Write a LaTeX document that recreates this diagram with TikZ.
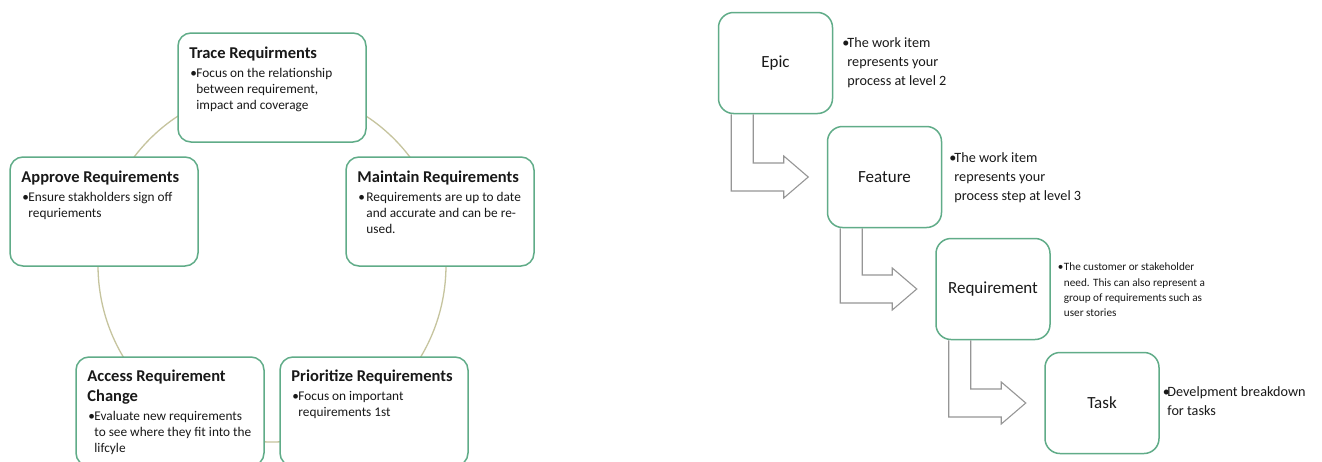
\documentclass[tikz,border=0pt]{standalone}
\usepackage{fontspec}
\setmainfont{Carlito}
\usetikzlibrary{calc}
\definecolor{boxgreen}{RGB}{96,172,136}
\definecolor{arcc}{RGB}{198,196,158}
\definecolor{arrgray}{RGB}{150,150,150}
\definecolor{txt}{RGB}{25,25,25}
\newcommand\blist[2]{\begin{tabular}[t]{@{}l@{}l@{}}\makebox[#1][l]{•}&\begin{tabular}[t]{@{}l@{}}#2\end{tabular}\end{tabular}}
\newcommand\bentarrow[2]{%
  \draw[bent] ($(#1.south west)+(13.5,0)$) |- ($(#2.west)+(-43,14)$) -- ++(0,7)
    -- ($(#2.west)+(-18.5,0)$) -- ($(#2.west)+(-43,-21)$) -- ++(0,7)
    -| ($(#1.south west)+(35.5,0)$);}
\begin{document}
\begin{tikzpicture}[x=1pt,y=-1pt,
  cyc/.style={draw=boxgreen, line width=1.5pt, fill=white, rounded corners=13pt,
    minimum width=188pt, minimum height=109pt, inner sep=0pt},
  lvl/.style={draw=boxgreen, line width=1.5pt, fill=white, rounded corners=15pt,
    minimum width=114pt, minimum height=101pt, inner sep=0pt, text=txt,
    font=\fontsize{17}{20}\selectfont},
  ttl/.style={anchor=base west, inner sep=0pt, text=txt, font=\bfseries\fontsize{16.5}{20}\selectfont},
  bdy/.style={anchor=base west, inner sep=0pt, text=txt, font=\fontsize{13.3}{16}\selectfont},
  side/.style={anchor=base west, inner sep=0pt, text=txt, font=\fontsize{14.2}{19}\selectfont},
  sidesm/.style={anchor=base west, inner sep=0pt, text=txt, font=\fontsize{11.2}{15.3}\selectfont},
  bent/.style={draw=arrgray, line width=1.1pt, line join=miter},
  ring/.style={draw=arcc, line width=1.3pt}]
\useasboundingbox (0,0) rectangle (1322,461);
\clip (0,0) rectangle (1322,461);
\fill[white] (0,0) rectangle (1322,461);

% ---------- lifecycle ----------
\draw[ring] (272,265) ellipse [x radius=174pt, y radius=177pt];
\node[cyc] (trace) at (272,87.5) {};
\node[cyc] (approve) at (104,211.5) {};
\node[cyc] (maintain) at (440,211.5) {};
\node[cyc] (access) at (170,411.5) {};
\node[cyc] (prior) at (374,411.5) {};

\node[ttl] (traceT) at ($(trace.north west)+(12,26)$) {Trace Requirments};
\node[bdy] (traceB) at ($(trace.north west)+(13,45.5)$) {\blist{6pt}{Focus on the relationship\\between requirement,\\impact and coverage}};

\node[ttl] (approveT) at ($(approve.north west)+(12,26)$) {Approve Requirements};
\node[bdy] (approveB) at ($(approve.north west)+(13,45.5)$) {\blist{6pt}{Ensure stakholders sign off\\requriements}};

\node[ttl] (maintainT) at ($(maintain.north west)+(12,26)$) {Maintain Requirements};
\node[bdy] (maintainB) at ($(maintain.north west)+(13,45.5)$) {\blist{8pt}{Requirements are up to date\\and accurate and can be re-\\used.}};

\node[ttl] (accessT) at ($(access.north west)+(12,25)$) {\begin{tabular}[t]{@{}l@{}}Access Requirement\\Change\end{tabular}};
\node[bdy] (accessB) at ($(access.north west)+(13,64.5)$) {\blist{6pt}{Evaluate new requirements\\to see where they fit into the\\lifcyle}};

\node[ttl] (priorT) at ($(prior.north west)+(12,25)$) {Prioritize Requirements};
\node[bdy] (priorB) at ($(prior.north west)+(13,44.5)$) {\blist{6pt}{Focus on important\\requirements 1st}};

% ---------- hierarchy ----------
\node[lvl] (epic) at (775.5,63) {Epic};
\node[lvl] (feature) at (884.5,177) {Feature};
\node[lvl] (requirement) at (993,289) {Requirement};
\node[lvl] (task) at (1102,403) {Task};

\bentarrow{epic}{feature}
\bentarrow{feature}{requirement}
\bentarrow{requirement}{task}

\node[side] (epicT) at ($(epic.east)+(9,-15.5)$) {\blist{5pt}{The work item\\represents your\\process at level 2}};
\node[side] (featureT) at ($(feature.east)+(7,-14.5)$) {\blist{5pt}{The work item\\represents your\\process step at level 3}};
\node[sidesm] (requirementT) at ($(requirement.east)+(7,-18.3)$) {\blist{6pt}{The customer or stakeholder\\need. This can also represent a\\group of requirements such as\\user stories}};
\node[side] (taskT) at ($(task.east)+(3,-6.5)$) {\blist{4.5pt}{Develpment breakdown\\for tasks}};
\end{tikzpicture}
\end{document}
